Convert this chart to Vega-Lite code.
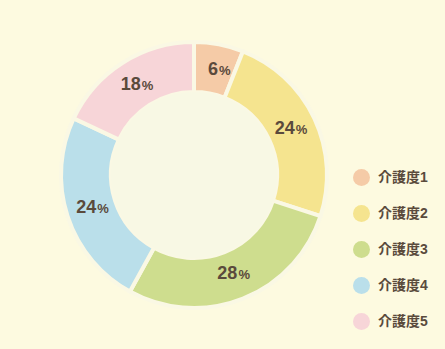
{
  "$schema": "https://vega.github.io/schema/vega-lite/v6.json",
  "width": 388,
  "height": 350,
  "padding": {"left": 0, "top": 0, "right": 57, "bottom": 0},
  "autosize": "none",
  "background": "#fdfae0",
  "config": {"view": {"stroke": null}},
  "datasets": {
    "care": [
      {"category": "介護度1", "value": 6},
      {"category": "介護度2", "value": 24},
      {"category": "介護度3", "value": 28},
      {"category": "介護度4", "value": 24},
      {"category": "介護度5", "value": 18}
    ],
    "hole": [{"part": "inner"}]
  },
  "layer": [
    {
      "data": {"name": "care"},
      "mark": {"type": "arc", "outerRadius": 133, "innerRadius": 83, "stroke": "#faf8e4", "strokeWidth": 4},
      "encoding": {
        "theta": {"field": "value", "type": "quantitative", "stack": true},
        "order": {"field": "category"},
        "color": {
          "field": "category",
          "type": "nominal",
          "scale": {"domain": ["介護度1", "介護度2", "介護度3", "介護度4", "介護度5"], "range": ["#f5cba7", "#f5e48f", "#cedd8e", "#badfea", "#f7d5d8"]},
          "legend": {
            "orient": "none",
            "legendX": 353,
            "legendY": 169,
            "title": null,
            "padding": 0,
            "symbolType": "circle",
            "symbolSize": 289,
            "symbolStrokeWidth": 0,
            "symbolOpacity": 1,
            "rowPadding": 19,
            "labelOffset": 8,
            "labelFont": "Liberation Sans, Noto Sans CJK JP",
            "labelFontSize": 14,
            "labelFontWeight": "bold",
            "labelColor": "#5a4a3c"
          }
        }
      }
    },
    {
      "data": {"name": "hole"},
      "mark": {"type": "arc", "outerRadius": 83, "innerRadius": 0, "theta": 0, "theta2": 6.2832, "fill": "#f8f8e4"},
      "encoding": {}
    },
    {
      "data": {"name": "care"},
      "mark": {"type": "text", "radius": 107, "align": "right", "baseline": "middle", "dx": 4, "font": "Liberation Sans", "fontSize": 18, "fontWeight": "bold", "fill": "#5a4a3c"},
      "encoding": {
        "theta": {"field": "value", "type": "quantitative", "stack": true},
        "order": {"field": "category"},
        "text": {"field": "value", "type": "quantitative"}
      }
    },
    {
      "data": {"name": "care"},
      "mark": {"type": "text", "radius": 107, "align": "left", "baseline": "middle", "dx": 5, "dy": 1, "font": "Liberation Sans", "fontSize": 13, "fontWeight": "bold", "fill": "#5a4a3c"},
      "encoding": {
        "theta": {"field": "value", "type": "quantitative", "stack": true},
        "order": {"field": "category"},
        "text": {"value": "%"}
      }
    }
  ]
}
